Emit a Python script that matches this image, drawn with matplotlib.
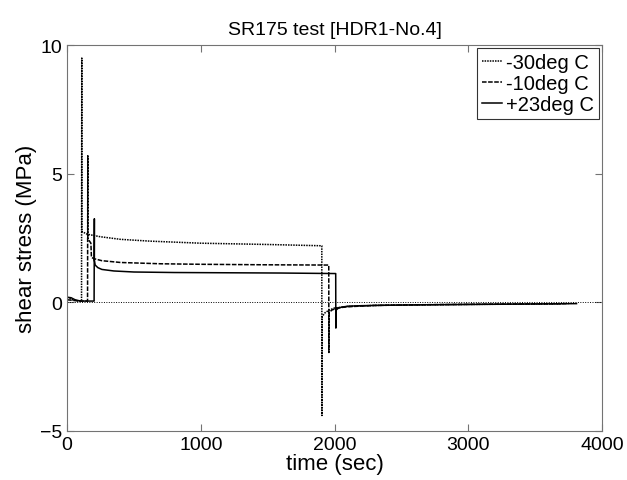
import matplotlib
matplotlib.use('Agg')
import matplotlib.pyplot as plt

plt.rcParams['font.family'] = ['Liberation Sans', 'DejaVu Sans']

# -30deg C (dotted)
t_m30 = [0, 40, 80, 108, 110, 110, 112, 150, 250, 400, 620, 1000, 1500, 1905, 1906, 1908,
         1930, 1960, 2000, 2100, 2300, 2600, 3000, 3400, 3700]
s_m30 = [0.2, 0.1, 0.05, 0.05, 9.5, 2.8, 2.75, 2.65, 2.55, 2.45, 2.38, 2.3, 2.25, 2.2, -4.4, -0.55,
         -0.4, -0.3, -0.22, -0.16, -0.12, -0.1, -0.08, -0.07, -0.06]

# -10deg C (dashed)
t_m10 = [0, 100, 153, 155, 155, 165, 178, 182, 200, 260, 400, 700, 1000, 1500, 1957, 1958,
         1960, 1980, 2020, 2100, 2300, 2700, 3200, 3750]
s_m10 = [0.1, 0.05, 0.05, 5.7, 2.5, 2.4, 2.3, 1.75, 1.7, 1.62, 1.55, 1.5, 1.48, 1.46, 1.45, -1.95,
         -0.4, -0.3, -0.22, -0.17, -0.12, -0.09, -0.07, -0.05]

# +23deg C (solid)
t_p23 = [0, 30, 60, 100, 202, 204, 204, 210, 230, 260, 350, 500, 800, 1200, 1600, 2009, 2010,
         2012, 2030, 2060, 2100, 2200, 2400, 2800, 3300, 3810]
s_p23 = [0.2, 0.18, 0.1, 0.05, 0.05, 3.25, 1.65, 1.45, 1.35, 1.28, 1.22, 1.18, 1.16, 1.15, 1.14, 1.12, -1.0,
         -0.3, -0.22, -0.18, -0.15, -0.13, -0.11, -0.09, -0.07, -0.05]

fig = plt.figure(figsize=(6.27, 4.81), dpi=100)
ax = fig.add_axes([0.107, 0.102, 0.853, 0.802])

# linea de cero
ax.axhline(0, color='k', linestyle=(0, (1, 1.5)), linewidth=0.7)

ax.plot(t_m30, s_m30, color='k', linestyle=(0, (1, 0.7)), linewidth=1.1, label='-30deg C')
ax.plot(t_m10, s_m10, color='k', linestyle=(0, (3, 1)), linewidth=1.1, label='-10deg C')
ax.plot(t_p23, s_p23, color='k', linestyle='-', linewidth=1.1, label='+23deg C')

ax.set_xlim(0, 4000)
ax.set_ylim(-5, 10)
ax.set_xticks([0, 1000, 2000, 3000, 4000])
ax.set_yticks([-5, 0, 5, 10])
ax.tick_params(direction='in', top=True, right=True, length=5, color='0.45', labelsize=14)
for sp in ax.spines.values():
    sp.set_color('0.45')

ax.set_xlabel('time (sec)', fontsize=16, labelpad=0)
ax.set_ylabel('shear stress (MPa)', fontsize=16, labelpad=2)
ax.set_title('SR175 test [HDR1-No.4]', fontsize=14, pad=8)

leg = ax.legend(loc='upper right', fontsize=14.5, handlelength=1.0, handletextpad=0.2,
                labelspacing=0.1, borderaxespad=0.15, borderpad=0.25, fancybox=False)
leg.get_frame().set_edgecolor('k')
leg.get_frame().set_linewidth(0.8)

plt.savefig('out.png', dpi=100)
